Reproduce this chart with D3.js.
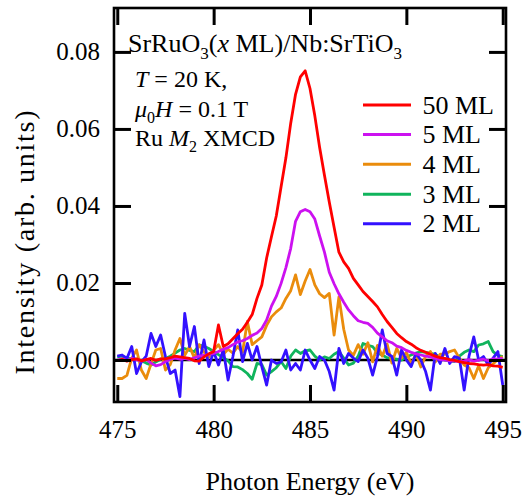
<!DOCTYPE html>
<html>
<head>
<meta charset="utf-8">
<script src="https://cdn.jsdelivr.net/npm/d3@7/dist/d3.min.js"></script>
<style>
  html, body { margin: 0; padding: 0; background: #fff; }
  svg { display: block; }
</style>
</head>
<body>
<svg id="chart" width="529" height="498"></svg>
<script>
// Photon energy grid (eV), 0.25 eV step from 475 to 495
const energy = d3.range(81).map(i => 475 + 0.25 * i);

// Ru M2 XMCD intensity (arb. units) for each SrRuO3 thickness
const ml50 = [
  -0.0002, 0.0002, -0.0003, 0.0001, 0.0003, -0.0002, 0.0001, 0.0004, -0.0001, 0.0003,
  0.0003, 0.0006, 0.0010, 0.0008, 0.0006, 0.0004, -0.0002, -0.0003, 0.0008, 0.0016,
  0.0022, 0.0091, 0.0035, 0.0042, 0.0055, 0.0068, 0.0080, 0.0098, 0.0118, 0.0160,
  0.0195, 0.0265, 0.0320, 0.0374, 0.0450, 0.0525, 0.0615, 0.0690, 0.0735, 0.0751,
  0.0705, 0.0634, 0.0552, 0.0480, 0.0410, 0.0345, 0.0280, 0.0255, 0.0238, 0.0212,
  0.0195, 0.0178, 0.0165, 0.0152, 0.0138, 0.0118, 0.0100, 0.0085, 0.0069, 0.0058,
  0.0048, 0.0041, 0.0032, 0.0025, 0.0020, 0.0015, 0.0010, 0.0006, 0.0004, 0.0001,
  -0.0001, -0.0004, -0.0007, -0.0009, -0.0010, -0.0012, -0.0013, -0.0012, -0.0015, -0.0016,
  -0.0019
];
const ml5 = [
  0.0000, 0.0003, -0.0002, 0.0004, 0.0001, -0.0003, 0.0002, -0.0008, -0.0015, -0.0012,
  -0.0004, 0.0002, 0.0005, 0.0002, 0.0004, 0.0001, 0.0006, 0.0010, 0.0012, 0.0014,
  0.0017, 0.0022, 0.0028, 0.0032, 0.0040, 0.0047, 0.0050, 0.0056, 0.0064, 0.0070,
  0.0082, 0.0104, 0.0140, 0.0165, 0.0199, 0.0240, 0.0290, 0.0360, 0.0385, 0.0391,
  0.0385, 0.0366, 0.0322, 0.0280, 0.0228, 0.0198, 0.0172, 0.0150, 0.0130, 0.0115,
  0.0102, 0.0098, 0.0095, 0.0085, 0.0070, 0.0060, 0.0050, 0.0045, 0.0036, 0.0032,
  0.0025, 0.0020, 0.0016, 0.0013, 0.0010, 0.0008, 0.0004, 0.0001, 0.0000, -0.0002,
  -0.0003, -0.0004, -0.0002, 0.0001, -0.0003, 0.0000, 0.0002, -0.0002, 0.0003, 0.0002,
  0.0004
];
const ml4 = [
  -0.0048, -0.0048, -0.0040, 0.0005, 0.0026, -0.0026, -0.0048, -0.0010, 0.0026, 0.0030,
  -0.0026, -0.0012, 0.0026, 0.0056, 0.0012, 0.0035, 0.0005, 0.0040, 0.0020, 0.0008,
  0.0025, 0.0040, 0.0015, 0.0028, 0.0018, 0.0035, 0.0020, 0.0100, 0.0040, 0.0050,
  0.0060, 0.0090, 0.0112, 0.0125, 0.0135, 0.0160, 0.0180, 0.0221, 0.0170, 0.0205,
  0.0235, 0.0195, 0.0172, 0.0162, 0.0173, 0.0065, 0.0164, 0.0080, 0.0026, 0.0012,
  0.0040, 0.0015, 0.0045, -0.0005, 0.0038, 0.0010, 0.0042, -0.0008, 0.0030, 0.0005,
  0.0020, -0.0010, 0.0015, -0.0018, 0.0010, 0.0022, -0.0005, 0.0015, 0.0015, 0.0022,
  0.0026, 0.0005, -0.0013, -0.0020, -0.0048, -0.0015, -0.0048, -0.0020, -0.0010, 0.0002,
  0.0009
];
const ml3 = [
  0.0008, 0.0010, 0.0005, 0.0003, 0.0002, -0.0002, -0.0008, -0.0013, -0.0005, 0.0002,
  0.0004, 0.0010, 0.0018, 0.0026, 0.0030, 0.0025, 0.0022, 0.0039, 0.0036, 0.0030,
  0.0022, 0.0014, 0.0006, -0.0002, -0.0017, -0.0018, -0.0025, -0.0035, -0.0050, -0.0009,
  -0.0012, -0.0039, -0.0030, -0.0020, -0.0004, -0.0022, 0.0010, 0.0026, 0.0017, 0.0024,
  0.0026, 0.0010, 0.0000, 0.0008, 0.0004, 0.0015, 0.0022, 0.0005, -0.0013, -0.0008,
  0.0010, 0.0043, 0.0038, 0.0035, 0.0018, 0.0013, 0.0006, 0.0004, 0.0002, 0.0000,
  0.0008, 0.0013, 0.0018, 0.0022, 0.0020, 0.0017, 0.0015, 0.0006, 0.0000, -0.0002,
  -0.0004, 0.0010, 0.0020, 0.0026, 0.0022, 0.0039, 0.0042, 0.0048, 0.0022, 0.0012,
  0.0009
];
const ml2 = [
  0.0010, 0.0013, 0.0004, 0.0035, -0.0035, -0.0005, 0.0010, 0.0069, 0.0035, 0.0065,
  0.0009, -0.0035, -0.0026, -0.0095, 0.0121, 0.0035, 0.0087, -0.0009, 0.0052, -0.0017,
  0.0022, -0.0013, 0.0026, -0.0052, 0.0009, 0.0078, -0.0004, 0.0043, 0.0000, 0.0035,
  -0.0017, -0.0065, 0.0000, -0.0009, -0.0005, 0.0026, -0.0026, -0.0009, -0.0026, 0.0026,
  0.0000, -0.0022, 0.0009, 0.0000, -0.0030, -0.0078, 0.0030, -0.0009, 0.0017, 0.0005,
  -0.0004, 0.0026, 0.0005, -0.0039, 0.0009, 0.0078, 0.0017, 0.0009, -0.0039, 0.0026,
  0.0000, -0.0017, 0.0017, 0.0000, -0.0030, -0.0078, 0.0017, -0.0009, 0.0030, -0.0009,
  0.0009, 0.0005, -0.0078, 0.0010, 0.0060, 0.0000, 0.0009, -0.0013, 0.0005, 0.0022,
  -0.0065
];

const seriesNames = ["50 ML", "5 ML", "4 ML", "3 ML", "2 ML"];
const seriesColors = ["#ff0000", "#cc11f0", "#ea8c0c", "#10b45c", "#3311ff"];
const seriesValues = [ml50, ml5, ml4, ml3, ml2];

const xTicks = [475, 480, 485, 490, 495];
const yTicks = [0, 0.02, 0.04, 0.06, 0.08];

const SERIF = "'Liberation Serif', 'Times New Roman', serif";

const svg = d3.select("#chart");
const plotLeft = 114, plotRight = 506, plotTop = 8, plotBottom = 402;

const x = d3.scaleLinear().domain([474.83, 495.17]).range([plotLeft, plotRight]);
const y = d3.scaleLinear().domain([-0.0109, 0.0914]).range([plotBottom, plotTop]);

const tickLen = 17;

// zero reference line
svg.append("line")
  .attr("x1", plotLeft).attr("x2", plotRight)
  .attr("y1", y(0)).attr("y2", y(0))
  .attr("stroke", "#000").attr("stroke-width", 2.5);

// spectra, drawn back to front
const line = d3.line().x((d, i) => x(energy[i])).y(d => y(d));
const drawOrder = [3, 2, 4, 1, 0];
svg.append("clipPath").attr("id", "plotclip")
  .append("rect").attr("x", plotLeft).attr("y", plotTop)
  .attr("width", plotRight - plotLeft).attr("height", plotBottom - plotTop);
const plot = svg.append("g").attr("clip-path", "url(#plotclip)");
drawOrder.forEach(k => {
  plot.append("path")
    .datum(seriesValues[k])
    .attr("d", line)
    .attr("fill", "none")
    .attr("stroke", seriesColors[k])
    .attr("stroke-width", 2.8)
    .attr("stroke-linejoin", "round");
});

// axes: ticks point inward on all four sides
const axisB = d3.axisBottom(x).tickValues(xTicks).tickSize(-tickLen).tickSizeOuter(0).tickPadding(18);
const axisT = d3.axisTop(x).tickValues(xTicks).tickSize(-tickLen).tickSizeOuter(0).tickFormat("");
const axisL = d3.axisLeft(y).tickValues(yTicks).tickSize(-tickLen).tickSizeOuter(0)
  .tickFormat(d3.format(".2f")).tickPadding(14);
const axisR = d3.axisRight(y).tickValues(yTicks).tickSize(-tickLen).tickSizeOuter(0).tickFormat("");

function styleAxis(g) {
  g.attr("font-family", null).attr("font-size", null);
  g.select(".domain").remove();
  g.selectAll(".tick line").attr("stroke", "#000").attr("stroke-width", 3);
  g.selectAll(".tick text")
    .style("font-family", SERIF)
    .style("font-size", "25px").attr("fill", "#000");
}
svg.append("g").attr("transform", `translate(0,${plotBottom})`).call(axisB).call(styleAxis);
svg.append("g").attr("transform", `translate(0,${plotTop})`).call(axisT).call(styleAxis);
svg.append("g").attr("transform", `translate(${plotLeft},0)`).call(axisL).call(styleAxis);
svg.append("g").attr("transform", `translate(${plotRight},0)`).call(axisR).call(styleAxis);

// frame
svg.append("rect")
  .attr("x", plotLeft).attr("y", plotTop)
  .attr("width", plotRight - plotLeft).attr("height", plotBottom - plotTop)
  .attr("fill", "none").attr("stroke", "#000").attr("stroke-width", 2.6);

function label(sel, size) {
  return sel.style("font-family", SERIF).style("font-size", size + "px").attr("fill", "#000");
}

// axis titles
label(svg.append("text"), 26)
  .attr("x", (plotLeft + plotRight) / 2).attr("y", 490)
  .attr("text-anchor", "middle")
  .text("Photon Energy (eV)");
label(svg.append("text"), 28)
  .attr("transform", `translate(34,${(108 + 377) / 2}) rotate(-90)`)
  .attr("text-anchor", "middle")
  .attr("textLength", 264).attr("lengthAdjust", "spacing")
  .text("Intensity (arb. units)");

// sample description
const title = label(svg.append("text"), 26).attr("x", 128).attr("y", 52);
title.append("tspan").text("SrRuO");
title.append("tspan").style("font-size", "17px").attr("dy", 7).text("3");
title.append("tspan").attr("dy", -7).text("(");
title.append("tspan").style("font-style", "italic").text("x");
title.append("tspan").text(" ML)/Nb:SrTiO");
title.append("tspan").style("font-size", "17px").attr("dy", 7).text("3");

const l1 = label(svg.append("text"), 24).attr("x", 135).attr("y", 87);
l1.append("tspan").style("font-style", "italic").text("T");
l1.append("tspan").text(" = 20 K,");

const l2 = label(svg.append("text"), 24).attr("x", 135).attr("y", 117);
l2.append("tspan").style("font-style", "italic").text("μ");
l2.append("tspan").style("font-size", "16px").attr("dy", 6).text("0");
l2.append("tspan").attr("dy", -6).style("font-style", "italic").text("H");
l2.append("tspan").text(" = 0.1 T");

const l3 = label(svg.append("text"), 24).attr("x", 135).attr("y", 146);
l3.append("tspan").text("Ru ");
l3.append("tspan").style("font-style", "italic").text("M");
l3.append("tspan").style("font-size", "16px").attr("dy", 6).text("2");
l3.append("tspan").attr("dy", -6).text(" XMCD");

// legend
const legendRows = [105, 134.5, 164.3, 194.2, 223.7];
seriesNames.forEach((name, i) => {
  const g = svg.append("g").attr("transform", `translate(0,${legendRows[i]})`);
  g.append("line").attr("x1", 363).attr("x2", 411).attr("y1", 0).attr("y2", 0)
    .attr("stroke", seriesColors[i]).attr("stroke-width", 3);
  label(g.append("text"), 26).attr("x", 422.5).attr("y", 8.5).text(name);
});
</script>
</body>
</html>
